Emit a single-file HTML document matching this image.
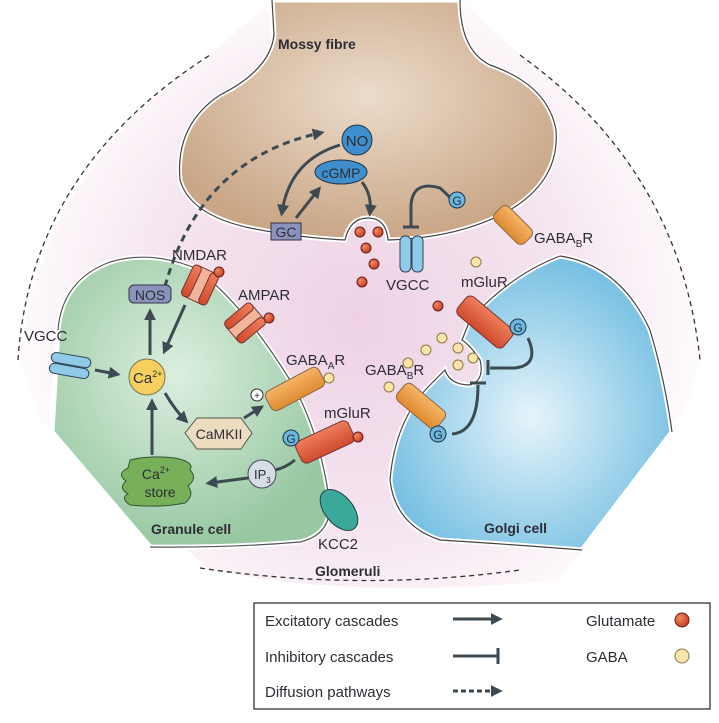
<!DOCTYPE html>
<html><head><meta charset="utf-8"><style>
body{margin:0;background:#fff}
svg{display:block}
text{font-family:"Liberation Sans",sans-serif;fill:#2d2d35}
</style></head><body>
<svg width="719" height="723" viewBox="0 0 719 723" xmlns="http://www.w3.org/2000/svg">
<defs>
<radialGradient id="bg" gradientUnits="userSpaceOnUse" cx="360" cy="320" r="360"><stop offset="0" stop-color="#eed2e4"/><stop offset="0.6" stop-color="#f5e6f0"/><stop offset="0.9" stop-color="#fdf8fb"/><stop offset="1" stop-color="#fff"/></radialGradient>
<radialGradient id="mf" cx="0.5" cy="0.4" r="0.6"><stop offset="0" stop-color="#ecdccb"/><stop offset="1" stop-color="#c9a686"/></radialGradient>
<radialGradient id="gr" cx="0.45" cy="0.4" r="0.6"><stop offset="0" stop-color="#dcefe0"/><stop offset="1" stop-color="#98c8a2"/></radialGradient>
<radialGradient id="go" cx="0.5" cy="0.55" r="0.6"><stop offset="0" stop-color="#e6f4fb"/><stop offset="1" stop-color="#6cbbe0"/></radialGradient>
<radialGradient id="glu" cx="0.35" cy="0.35" r="0.7"><stop offset="0" stop-color="#f08a62"/><stop offset="1" stop-color="#c83a1e"/></radialGradient>
<linearGradient id="org" x1="0" y1="0" x2="0" y2="1"><stop offset="0" stop-color="#f5b567"/><stop offset="1" stop-color="#e08a30"/></linearGradient>
<linearGradient id="red" x1="0" y1="0" x2="0" y2="1"><stop offset="0" stop-color="#ef7e5c"/><stop offset="1" stop-color="#cf4a2c"/></linearGradient>
<marker id="ah" viewBox="0 0 10 10" refX="6" refY="5" markerWidth="4" markerHeight="4" orient="auto"><path d="M0,0L10,5L0,10z" fill="#3d4a52"/></marker>
</defs>
<path d="M20,360 Q40,170 210,55 L272,0 L460,0 L520,55 Q680,170 700,360 L690,400 L560,580 Q360,600 210,570 L40,420 Z" fill="url(#bg)"/>
<path d="M18,360 Q30,170 210,55" fill="none" stroke="#333" stroke-width="1.3" stroke-dasharray="5,4"/>
<path d="M520,55 Q680,170 700,360" fill="none" stroke="#333" stroke-width="1.3" stroke-dasharray="5,4"/>
<path d="M200,568 Q360,592 520,570" fill="none" stroke="#333" stroke-width="1.3" stroke-dasharray="5,4"/>
<path d="M272,0 L274,35 Q270,70 220,95 Q175,125 180,180 Q190,215 250,228 Q300,238 345,240 Q350,218 368,218 Q386,218 388,240 Q460,238 510,210 Q560,180 556,130 Q548,85 490,65 Q460,50 460,0 Z" fill="url(#mf)" stroke="#fff" stroke-width="5"/>
<path d="M272,0 L274,35 Q270,70 220,95 Q175,125 180,180 Q190,215 250,228 Q300,238 345,240 Q350,218 368,218 Q386,218 388,240 Q460,238 510,210 Q560,180 556,130 Q548,85 490,65 Q460,50 460,0" fill="none" stroke="#444" stroke-width="1.2"/>
<text x="278" y="49" font-size="14" font-weight="bold">Mossy fibre</text>
<path d="M58,330 Q62,280 110,262 Q150,250 195,268 Q240,300 290,380 Q320,430 330,505 Q330,535 300,542 Q230,548 150,547 L52,432 Z" fill="url(#gr)" stroke="#fff" stroke-width="5"/>
<path d="M58,330 Q62,280 110,262 Q150,250 195,268 Q240,300 290,380 Q320,430 330,505 Q330,535 300,542 Q230,548 150,547" fill="none" stroke="#555" stroke-width="1.2"/>
<text x="151" y="534" font-size="14" font-weight="bold">Granule cell</text>
<path d="M560,256 Q620,265 650,330 Q665,380 672,432 L582,550 Q520,545 440,540 Q395,525 390,480 Q395,420 430,385 L445,370 Q450,385 470,385 Q485,380 480,360 Q470,345 462,340 L470,320 Q510,275 560,256 Z" fill="url(#go)" stroke="#fff" stroke-width="5"/>
<path d="M560,256 Q620,265 650,330 Q665,380 672,432 M582,550 Q520,545 440,540 Q395,525 390,480 Q395,420 430,385 L445,370 Q450,385 470,385 Q485,380 480,360 Q470,345 462,340 L470,320 Q510,275 560,256" fill="none" stroke="#444" stroke-width="1.2"/>
<text x="484" y="533" font-size="14" font-weight="bold">Golgi cell</text>
<text x="315" y="576" font-size="14" font-weight="bold">Glomeruli</text>
<circle cx="357" cy="140" r="15" fill="#3f8fcf" stroke="#234"/><text x="357" y="146" font-size="15" text-anchor="middle">NO</text>
<ellipse cx="341" cy="172" rx="26" ry="12" fill="#3f8fcf" stroke="#234"/><text x="341" y="178" font-size="14" text-anchor="middle">cGMP</text>
<rect x="271" y="223" width="30" height="17" fill="#8b93bd" stroke="#334"/><text x="286" y="237" font-size="14" text-anchor="middle">GC</text>
<path d="M340,145 Q290,160 282,212" fill="none" stroke="#3d4a52" stroke-width="3" marker-end="url(#ah)"/>
<path d="M296,218 L318,190" stroke="#3d4a52" stroke-width="3" marker-end="url(#ah)"/>
<path d="M362,182 Q372,195 370,212" fill="none" stroke="#3d4a52" stroke-width="3" marker-end="url(#ah)"/>
<path d="M162,298 Q195,160 320,133" fill="none" stroke="#3d4a52" stroke-width="3" stroke-dasharray="7,5" marker-end="url(#ah)"/>
<circle cx="360" cy="232" r="5" fill="url(#glu)" stroke="#622"/><circle cx="378" cy="232" r="5" fill="url(#glu)" stroke="#622"/><circle cx="366" cy="248" r="5" fill="url(#glu)" stroke="#622"/>
<circle cx="374" cy="264" r="5" fill="url(#glu)" stroke="#622"/><circle cx="362" cy="282" r="5" fill="url(#glu)" stroke="#622"/>
<circle cx="438" cy="306" r="5" fill="url(#glu)" stroke="#622"/>
<rect x="400" y="236" width="11" height="36" rx="5" fill="#8fcbe8" stroke="#345"/><rect x="412" y="236" width="11" height="36" rx="5" fill="#8fcbe8" stroke="#345"/>
<path d="M411,226 L411,205 Q413,180 440,188 Q448,195 450,198" fill="none" stroke="#3d4a52" stroke-width="3"/><line x1="403" y1="227" x2="419" y2="227" stroke="#3d4a52" stroke-width="3"/>
<circle cx="457" cy="200" r="8" fill="#6ab8e0" stroke="#234"/><text x="457" y="205" font-size="12" text-anchor="middle">G</text>
<text x="386" y="290" font-size="15">VGCC</text>
<rect x="492" y="215" width="42" height="20" rx="6" fill="url(#org)" stroke="#864" transform="rotate(45 513 225)"/>
<text x="534" y="243" font-size="15">GABA<tspan font-size="10" dy="4">B</tspan><tspan dy="-4">R</tspan></text>
<circle cx="476" cy="262" r="5" fill="#fce5a8" stroke="#874"/>
<text x="172" y="260" font-size="15">NMDAR</text>
<g transform="rotate(25 200 285)"><rect x="188" y="268" width="24" height="34" rx="3" fill="#f2b49a" stroke="#733"/><rect x="186" y="268" width="9" height="34" rx="4" fill="url(#red)" stroke="#733"/><rect x="205" y="268" width="9" height="34" rx="4" fill="url(#red)" stroke="#733"/></g>
<circle cx="219" cy="272" r="5" fill="url(#glu)" stroke="#622"/>
<text x="238" y="300" font-size="15">AMPAR</text>
<g transform="rotate(50 245 323)"><rect x="233" y="306" width="24" height="34" rx="3" fill="#f2b49a" stroke="#733"/><rect x="231" y="306" width="9" height="34" rx="4" fill="url(#red)" stroke="#733"/><rect x="250" y="306" width="9" height="34" rx="4" fill="url(#red)" stroke="#733"/></g>
<circle cx="269" cy="318" r="5" fill="url(#glu)" stroke="#622"/>
<rect x="129" y="285" width="42" height="18" rx="5" fill="#8b93bd" stroke="#334"/><text x="150" y="300" font-size="14" text-anchor="middle">NOS</text>
<text x="24" y="341" font-size="15">VGCC</text>
<g transform="rotate(10 70 366)"><rect x="50" y="355" width="40" height="10" rx="5" fill="#8fcbe8" stroke="#345"/><rect x="50" y="366" width="40" height="10" rx="5" fill="#8fcbe8" stroke="#345"/></g>
<line x1="95" y1="370" x2="116" y2="374" stroke="#3d4a52" stroke-width="3" marker-end="url(#ah)"/>
<circle cx="147" cy="377" r="18" fill="#f7cf5e" stroke="#775"/><text x="133" y="383" font-size="15">Ca<tspan font-size="9" dy="-6">2+</tspan></text>
<line x1="150" y1="355" x2="150" y2="313" stroke="#3d4a52" stroke-width="3" marker-end="url(#ah)"/>
<line x1="185" y1="305" x2="165" y2="350" stroke="#3d4a52" stroke-width="3" marker-end="url(#ah)"/>
<path d="M165,393 Q175,410 185,420" fill="none" stroke="#3d4a52" stroke-width="3" marker-end="url(#ah)"/>
<line x1="152" y1="455" x2="152" y2="403" stroke="#3d4a52" stroke-width="3" marker-end="url(#ah)"/>
<polygon points="185,433 197,418 241,418 252,433 241,449 197,449" fill="#eddcc0" stroke="#554"/><text x="219" y="439" font-size="14" text-anchor="middle">CaMKII</text>
<line x1="244" y1="418" x2="260" y2="408" stroke="#3d4a52" stroke-width="3" marker-end="url(#ah)"/>
<circle cx="257" cy="395" r="6" fill="#fff" stroke="#333"/><text x="257" y="399" font-size="10" text-anchor="middle">+</text>
<rect x="265" y="378" width="60" height="22" rx="6" fill="url(#org)" stroke="#864" transform="rotate(-28 295 389)"/>
<circle cx="329" cy="378" r="5" fill="#fce5a8" stroke="#874"/>
<text x="286" y="365" font-size="15">GABA<tspan font-size="10" dy="4">A</tspan><tspan dy="-4">R</tspan></text>
<text x="324" y="418" font-size="15">mGluR</text>
<rect x="296" y="430" width="58" height="24" rx="6" fill="url(#red)" stroke="#733" transform="rotate(-25 325 442)"/>
<circle cx="358" cy="437" r="5" fill="url(#glu)" stroke="#622"/>
<circle cx="291" cy="438" r="8" fill="#6ab8e0" stroke="#234"/><text x="291" y="443" font-size="12" text-anchor="middle">G</text>
<path d="M295,460 Q285,468 275,470" fill="none" stroke="#3d4a52" stroke-width="3"/>
<circle cx="262" cy="474" r="14" fill="#d6dde4" stroke="#445"/><text x="254" y="479" font-size="13">IP<tspan font-size="8" dy="4">3</tspan></text>
<line x1="248" y1="478" x2="210" y2="483" stroke="#3d4a52" stroke-width="3" marker-end="url(#ah)"/>
<path d="M130,460 Q150,455 175,458 Q195,462 190,470 Q198,478 188,486 Q195,495 185,503 Q160,508 130,505 Q120,498 128,494 Q118,488 126,481 Q116,474 128,468 Z" fill="#78b05a" stroke="#353"/>
<text x="156" y="479" font-size="14" text-anchor="middle">Ca<tspan font-size="9" dy="-6">2+</tspan></text><text x="160" y="497" font-size="14" text-anchor="middle">store</text>
<ellipse cx="339" cy="510" rx="14" ry="24" fill="#3aa89a" stroke="#244" transform="rotate(-40 339 510)"/>
<text x="318" y="549" font-size="15">KCC2</text>
<text x="461" y="287" font-size="15">mGluR</text>
<rect x="455" y="310" width="60" height="24" rx="6" fill="url(#red)" stroke="#733" transform="rotate(40 485 322)"/>
<circle cx="518" cy="327" r="8" fill="#6ab8e0" stroke="#234"/><text x="518" y="332" font-size="12" text-anchor="middle">G</text>
<path d="M528,338 Q540,365 515,368 L490,368" fill="none" stroke="#3d4a52" stroke-width="3"/><line x1="488" y1="360" x2="488" y2="375" stroke="#3d4a52" stroke-width="3"/>
<text x="365" y="375" font-size="15">GABA<tspan font-size="10" dy="4">B</tspan><tspan dy="-4">R</tspan></text>
<rect x="395" y="395" width="52" height="22" rx="6" fill="url(#org)" stroke="#864" transform="rotate(40 421 406)"/>
<circle cx="389" cy="387" r="5" fill="#fce5a8" stroke="#874"/>
<circle cx="438" cy="434" r="8" fill="#6ab8e0" stroke="#234"/><text x="438" y="439" font-size="12" text-anchor="middle">G</text>
<path d="M452,434 Q478,432 478,385" fill="none" stroke="#3d4a52" stroke-width="3"/><line x1="470" y1="383" x2="486" y2="383" stroke="#3d4a52" stroke-width="3"/>
<g fill="#fce5a8" stroke="#874"><circle cx="442" cy="338" r="5"/><circle cx="426" cy="350" r="5"/><circle cx="458" cy="348" r="5"/><circle cx="473" cy="358" r="5"/><circle cx="458" cy="365" r="5"/><circle cx="408" cy="363" r="5"/></g>
<rect x="254" y="603" width="456" height="106" fill="#fff" stroke="#333" stroke-width="1.3"/>
<text x="265" y="626" font-size="15">Excitatory cascades</text>
<text x="265" y="662" font-size="15">Inhibitory cascades</text>
<text x="265" y="697" font-size="15">Diffusion pathways</text>
<line x1="453" y1="619" x2="498" y2="619" stroke="#3d4a52" stroke-width="3" marker-end="url(#ah)"/>
<line x1="453" y1="656" x2="498" y2="656" stroke="#3d4a52" stroke-width="3"/><line x1="498" y1="648" x2="498" y2="664" stroke="#3d4a52" stroke-width="3"/>
<line x1="453" y1="691" x2="498" y2="691" stroke="#3d4a52" stroke-width="3" stroke-dasharray="5,3" marker-end="url(#ah)"/>
<text x="586" y="626" font-size="15">Glutamate</text>
<text x="586" y="662" font-size="15">GABA</text>
<circle cx="682" cy="620" r="7" fill="url(#glu)" stroke="#622"/>
<circle cx="682" cy="656" r="7" fill="#fce5a8" stroke="#874"/>
</svg>
</body></html>
